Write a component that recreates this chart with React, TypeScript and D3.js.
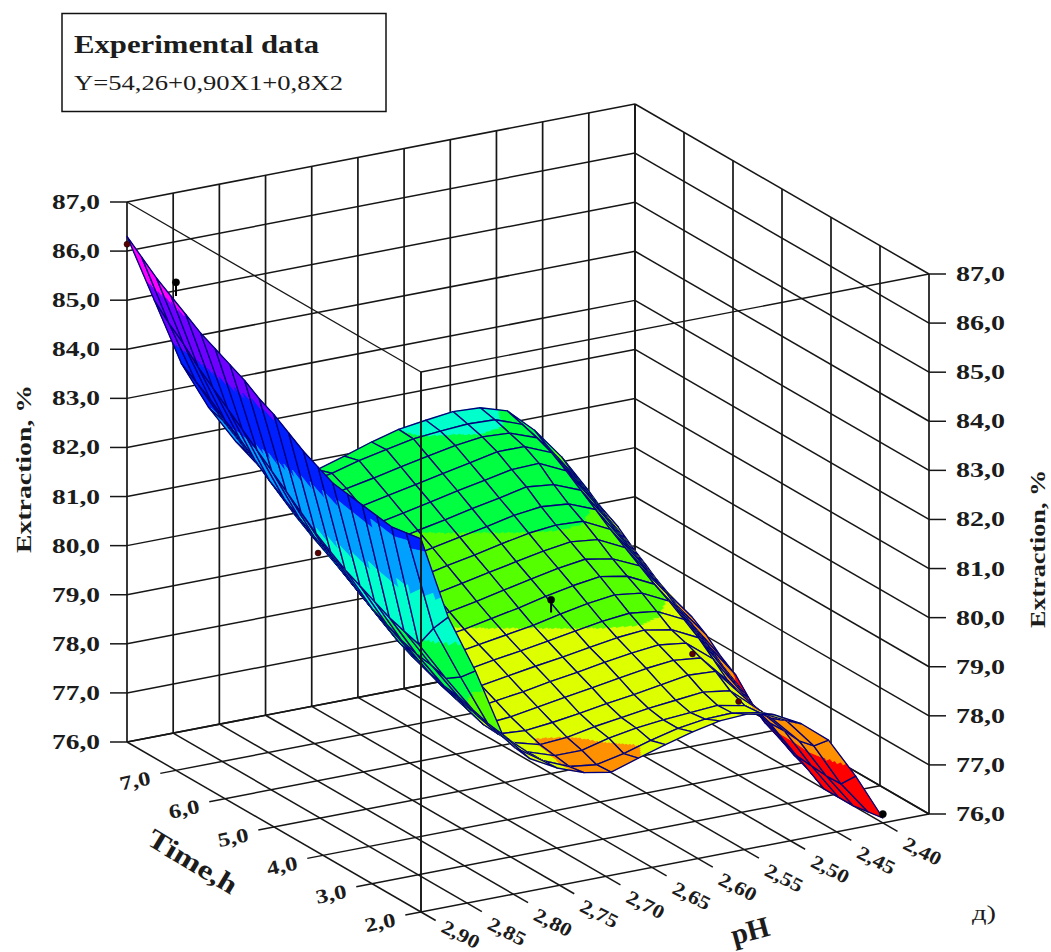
import React from "react";
import * as d3 from "d3";

// ---------- axes ----------
const phTicks = [2.9, 2.85, 2.8, 2.75, 2.7, 2.65, 2.6, 2.55, 2.5, 2.45, 2.4];
const phLines = [...phTicks, 2.35];
const timeTicks = [2, 3, 4, 5, 6, 7];
const timeLines = [...timeTicks, 8];
const zTicks = [76, 77, 78, 79, 80, 81, 82, 83, 84, 85, 86, 87];

// ---------- surface grid ----------
const phGrid = [2.9, 2.8706, 2.8412, 2.8118, 2.7824, 2.7529, 2.7235, 2.6941, 2.6647, 2.6353, 2.6059, 2.5765, 2.5471, 2.5176, 2.4882, 2.4588, 2.4294, 2.4];
const timeGrid = [2, 2.3, 2.6, 2.9, 3.2, 3.5, 3.8, 4.1, 4.4, 4.7, 5, 5.3, 5.6, 5.9, 6.2, 6.5, 6.8, 7.1, 7.4, 7.7, 8];
// extraction, one row per time value, one column per pH value
const extraction = [
  [83.6, 81.9, 80.7, 79.3, 78.7, 78.4, 78.2, 78.1, 78.28, 78.45, 78.6, 78.72, 78.75, 78.63, 78.34, 77.9, 77.06, 76.1],
  [83.55, 81.5, 80.4, 79.35, 78.75, 78.38, 78.15, 78.08, 78.2, 78.36, 78.5, 78.58, 78.6, 78.5, 78.23, 77.61, 76.73, 76.05],
  [83.5, 81.0, 80.2, 79.45, 78.85, 78.38, 78.2, 78.2, 78.34, 78.44, 78.5, 78.54, 78.58, 78.47, 78.1, 77.54, 76.72, 76.0],
  [83.55, 81.1, 80.3, 79.55, 78.95, 78.4, 78.25, 78.29, 78.4, 78.48, 78.56, 78.62, 78.68, 78.6, 78.13, 77.57, 76.75, 76.0],
  [83.6, 81.2, 80.35, 79.6, 79.0, 78.4, 78.36, 78.42, 78.5, 78.59, 78.67, 78.76, 78.85, 78.82, 78.22, 77.56, 76.78, 76.0],
  [83.65, 81.35, 80.45, 79.7, 79.05, 78.42, 78.47, 78.56, 78.65, 78.74, 78.83, 78.92, 78.98, 78.92, 78.35, 77.67, 76.95, 76.2],
  [83.7, 81.5, 80.6, 79.85, 79.15, 78.53, 78.62, 78.7, 78.8, 78.88, 78.98, 79.06, 79.12, 79.05, 78.62, 77.87, 77.1, 76.33],
  [83.85, 81.65, 80.75, 79.95, 79.28, 78.68, 78.76, 78.85, 78.94, 79.02, 79.11, 79.2, 79.25, 79.15, 78.88, 78.1, 77.3, 76.5],
  [84.0, 81.85, 80.95, 80.15, 79.4, 78.82, 78.9, 79.0, 79.08, 79.17, 79.27, 79.36, 79.42, 79.35, 79.08, 78.32, 77.5, 76.65],
  [84.2, 82.05, 81.15, 80.35, 79.55, 78.98, 79.05, 79.14, 79.23, 79.32, 79.44, 79.55, 79.62, 79.55, 79.28, 78.55, 77.72, 76.93],
  [84.4, 82.3, 81.35, 80.55, 79.75, 79.12, 79.2, 79.28, 79.39, 79.5, 79.63, 79.74, 79.82, 79.72, 79.45, 78.75, 77.98, 77.28],
  [84.55, 82.55, 81.55, 80.75, 79.95, 79.28, 79.34, 79.46, 79.57, 79.69, 79.81, 79.92, 80.0, 79.9, 79.65, 78.98, 78.2, 77.48],
  [84.75, 82.8, 81.75, 80.95, 80.15, 79.45, 79.53, 79.65, 79.76, 79.88, 79.99, 80.1, 80.18, 80.12, 79.85, 79.15, 78.4, 77.75],
  [84.9, 83.05, 81.95, 81.1, 80.35, 79.65, 79.72, 79.83, 79.95, 80.06, 80.18, 80.29, 80.35, 80.32, 80.05, 79.35, 78.6, 77.95],
  [85.05, 83.3, 82.15, 81.3, 80.55, 79.85, 79.9, 80.02, 80.14, 80.25, 80.36, 80.48, 80.55, 80.5, 80.28, 79.55, 78.8, 78.04],
  [85.2, 83.55, 82.4, 81.55, 80.75, 80.05, 80.08, 80.2, 80.32, 80.43, 80.55, 80.66, 80.78, 80.72, 80.5, 79.78, 79.0, 78.2],
  [85.4, 83.8, 82.65, 81.8, 80.95, 80.25, 80.27, 80.39, 80.5, 80.62, 80.74, 80.85, 80.96, 80.98, 80.72, 80.0, 79.22, 78.44],
  [85.6, 84.05, 82.85, 82.0, 81.15, 80.5, 80.46, 80.57, 80.69, 80.8, 80.92, 81.03, 81.15, 81.15, 80.92, 80.2, 79.42, 78.66],
  [85.8, 84.35, 83.1, 82.2, 81.4, 80.75, 80.65, 80.76, 80.87, 80.99, 81.1, 81.21, 81.28, 81.25, 81.05, 80.4, 79.65, 78.91],
  [86.05, 84.6, 83.3, 82.4, 81.6, 81.0, 80.8, 80.9, 81.05, 81.17, 81.28, 81.33, 81.37, 81.35, 81.15, 80.55, 79.85, 79.06],
  [86.3, 84.9, 83.5, 82.5, 81.7, 81.0, 80.7, 80.8, 80.97, 81.15, 81.3, 81.38, 81.45, 81.42, 81.25, 80.75, 80.1, 79.3],
];
const bandLimits = [77.3, 78.3, 79.3, 80.3, 81.3, 82.3, 83.3, 84.35, 85.4];
const bandColors = ["#ff0000", "#ff9000", "#ddff00", "#55ff00", "#00ff40", "#00ffcc", "#00a0ff", "#0020ff", "#7000ff", "#ff00ff"];
// the band colour along the steep strip at the left reads cooler than its height alone gives
const stripBandShift = [0, 0.2, 0.55, 0.8, 1.0, 0.6, 0, 0, 0, 0, 0, 0, 0, 0, 0, 0, 0, 0];

// ---------- experimental points ----------
const pointPh = [2.9, 2.9, 2.9, 2.6, 2.5, 2.45, 2.4];
const pointTime = [8, 7, 4.1, 5, 4, 4, 2];
const pointZ = [86.14, 85.94, 82.1, 79.54, 78.65, 77.5, 76.18];
const pointSurface = [86.14, 85.66, 82.1, 79.28, 78.65, 77.5, 76.18];
const pointColor = ["#5a0000", "#000", "#5a0000", "#000", "#5a0000", "#5a0000", "#000"];

// ---------- oblique projection ----------
const origin = { x: 421, y: 912 };
const phX = d3.scaleLinear().domain([2.9, 2.35]).range([0, 508]);
const phY = d3.scaleLinear().domain([2.9, 2.35]).range([0, -98]);
const tX = d3.scaleLinear().domain([2, 8]).range([0, -294]);
const tY = d3.scaleLinear().domain([2, 8]).range([0, -170]);
const zY = d3.scaleLinear().domain([76, 87]).range([0, -540]);
const band = d3.scaleThreshold<number, string>().domain(bandLimits).range(bandColors);

type P = [number, number];
const project = (ph: number, t: number, z: number): P => [
  origin.x + phX(ph) + tX(t),
  origin.y + phY(ph) + tY(t) + zY(z),
];
const line = d3.line<P>();
const PH_MAX = 2.35, PH_MIN = 2.9, T_MIN = 2, T_MAX = 8;
const GRID = "#161616";
const SERIF = "'Liberation Serif','DejaVu Serif',serif";
const SUB = 12;

function Cell({ i, j }: { i: number; j: number }) {
  const z00 = extraction[j][i], z10 = extraction[j][i + 1], z01 = extraction[j + 1][i], z11 = extraction[j + 1][i + 1];
  const corner = (a: number, b: number): { p: P; z: number; shift: number } => {
    const z = z00 * (1 - a) * (1 - b) + z10 * a * (1 - b) + z01 * (1 - a) * b + z11 * a * b;
    const ph = phGrid[i] + (phGrid[i + 1] - phGrid[i]) * a;
    const t = timeGrid[j] + (timeGrid[j + 1] - timeGrid[j]) * b;
    const colShift = stripBandShift[i] * (1 - a) + stripBandShift[i + 1] * a;
    return { p: project(ph, t, z), z, shift: colShift * Math.min(1, (j + b) / 2) };
  };
  const byColor = new Map<string, string>();
  for (let a = 0; a < SUB; a++) {
    for (let b = 0; b < SUB; b++) {
      const mid = corner((a + 0.5) / SUB, (b + 0.5) / SUB);
      const c = band(mid.z + mid.shift);
      const d = (line([
        corner(a / SUB, b / SUB).p,
        corner((a + 1) / SUB, b / SUB).p,
        corner((a + 1) / SUB, (b + 1) / SUB).p,
        corner(a / SUB, (b + 1) / SUB).p,
      ]) as string) + "Z";
      byColor.set(c, (byColor.get(c) || "") + d);
    }
  }
  const outline = (line([corner(0, 0).p, corner(1, 0).p, corner(1, 1).p, corner(0, 1).p]) as string) + "Z";
  return (
    <g>
      {[...byColor.entries()].map(([c, d]) => (
        <path key={c} d={d} fill={c} stroke={c} strokeWidth={0.7} />
      ))}
      <path d={outline} fill="none" stroke="#00007a" strokeWidth={1.35} strokeLinejoin="round" />
    </g>
  );
}

function Seg({ a, b, w = 1.5 }: { a: P; b: P; w?: number }) {
  return <line x1={a[0]} y1={a[1]} x2={b[0]} y2={b[1]} stroke={GRID} strokeWidth={w} />;
}

export default function App() {
  const rowsBackToFront = d3.range(timeGrid.length - 2, -1, -1);
  const colsBackToFront = d3.range(phGrid.length - 2, -1, -1);
  const axisText = { fontFamily: SERIF, fontWeight: 700, fill: "#1c1c1c", lengthAdjust: "spacingAndGlyphs" } as const;
  return (
    <svg width={1051} height={952} style={{ position: "absolute", left: 0, top: 0, background: "#fff" }}>
      {/* floor */}
      {timeLines.map((t) => (
        <Seg key={"ft" + t} a={project(PH_MAX, t, 76)} b={project(t === 8 ? PH_MIN : PH_MIN + 0.017, t, 76)} />
      ))}
      {phLines.map((ph) => (
        <Seg key={"fp" + ph} a={project(ph, T_MAX, 76)} b={project(ph, ph === 2.35 ? T_MIN : T_MIN - 0.3, 76)} />
      ))}
      {/* back walls */}
      {phLines.map((ph) => (
        <Seg key={"lv" + ph} a={project(ph, T_MAX, 76)} b={project(ph, T_MAX, 87)} w={1.7} />
      ))}
      {timeLines.map((t) => (
        <Seg key={"rv" + t} a={project(PH_MAX, t, 76)} b={project(PH_MAX, t, 87)} w={1.7} />
      ))}
      {zTicks.map((z) => {
        const back = project(PH_MAX, T_MAX, z);
        const left = project(PH_MIN, T_MAX, z);
        const right = project(PH_MAX, T_MIN, z);
        return (
          <g key={"z" + z}>
            <Seg a={left} b={back} />
            <Seg a={back} b={right} />
            <Seg a={[left[0] - 17, left[1]]} b={left} />
            <Seg a={right} b={[right[0] + 17, right[1]]} />
            <text x={left[0] - 75} y={left[1] + 7} fontSize={21} textLength={48} {...axisText}>
              {z.toFixed(1).replace(".", ",")}
            </text>
            <text x={right[0] + 27} y={right[1] + 7} fontSize={21} textLength={49} {...axisText}>
              {z.toFixed(1).replace(".", ",")}
            </text>
          </g>
        );
      })}
      {/* top of the box */}
      <Seg a={project(PH_MIN, T_MAX, 87)} b={project(PH_MIN, T_MIN, 87)} w={1.3} />
      <Seg a={project(PH_MIN, T_MIN, 87)} b={project(PH_MAX, T_MIN, 87)} w={1.3} />

      {/* surface */}
      {rowsBackToFront.map((j) =>
        colsBackToFront.map((i) => <Cell key={j + "-" + i} i={i} j={j} />)
      )}

      {/* front edge */}
      <Seg a={project(PH_MIN, T_MIN, 76)} b={project(PH_MIN, T_MIN, 87)} w={1.9} />

      {/* experimental points */}
      {pointPh.map((ph, k) => {
        const a = project(ph, pointTime[k], pointZ[k]);
        const b = project(ph, pointTime[k], pointSurface[k]);
        return (
          <g key={"pt" + k}>
            <line x1={a[0]} y1={a[1]} x2={b[0]} y2={b[1]} stroke="#000" strokeWidth={2} />
            <circle cx={a[0]} cy={a[1]} r={pointColor[k] === "#000" ? 3.6 : 3} fill={pointColor[k]} stroke="#000" strokeWidth={0.5} />
          </g>
        );
      })}

      {/* tick labels on the floor */}
      {timeTicks.map((t) => {
        const p = project(PH_MIN, t, 76);
        return (
          <text key={"tl" + t} transform={`translate(${p[0] - 41},${p[1] + 10}) rotate(-12)`} textAnchor="middle" dy="0.36em" fontSize={20} textLength={31} {...axisText}>
            {t.toFixed(1).replace(".", ",")}
          </text>
        );
      })}
      {phTicks.map((ph) => {
        const p = project(ph, T_MIN, 76);
        return (
          <text key={"pl" + ph} transform={`translate(${p[0] + 40},${p[1] + (ph === 2.9 ? 22 : 28)}) rotate(27)`} textAnchor="middle" dy="0.36em" fontSize={19.5} textLength={40} {...axisText}>
            {ph.toFixed(2).replace(".", ",")}
          </text>
        );
      })}

      {/* axis titles */}
      <text transform="translate(31,469) rotate(-90)" textAnchor="middle" fontSize={22} textLength={168} {...axisText}>Extraction, %</text>
      <text transform="translate(1045,549) rotate(-90)" textAnchor="middle" fontSize={22} textLength={158} {...axisText}>Extraction, %</text>
      <text transform="translate(193,861) rotate(31)" textAnchor="middle" dy="0.36em" fontSize={27} textLength={100} {...axisText}>Time,h</text>
      <text transform="translate(750,930) rotate(-15)" textAnchor="middle" dy="0.36em" fontSize={29} {...axisText}>pH</text>
      <text x={972} y={920} fontSize={21} textLength={24} lengthAdjust="spacingAndGlyphs" fontFamily={SERIF} fill="#1c1c1c">д)</text>

      {/* legend box */}
      <rect x={62} y={13.5} width={324} height={98} fill="#fff" stroke="#111" strokeWidth={1.5} />
      <text x={74} y={53} fontSize={25} textLength={245} {...axisText}>Experimental data</text>
      <text x={74} y={90} fontSize={21.5} textLength={269} lengthAdjust="spacingAndGlyphs" fontFamily={SERIF} fill="#1c1c1c">Y=54,26+0,90X1+0,8X2</text>
    </svg>
  );
}
